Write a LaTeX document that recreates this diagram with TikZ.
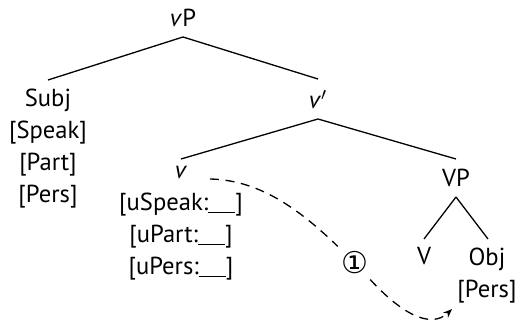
\documentclass[tikz,border=0pt]{standalone}
\usepackage{fontspec}
\setmainfont{PT Sans}
\newfontfamily\symfont{DejaVu Sans}
\usetikzlibrary{arrows.meta}
\newcommand{\featblank}{\rule[-1.2pt]{1.1em}{0.5pt}}
\begin{document}
\begin{tikzpicture}[x=0.5pt,y=-0.5pt,
  every node/.style={inner sep=0pt, font=\fontsize{12.3}{16}\selectfont},
  feat/.style={align=center, anchor=base},
  lbl/.style={anchor=base},
  branch/.style={line width=0.65pt},
  dashline/.style={line width=0.65pt, dash pattern=on 4.5pt off 3.3pt, -{Stealth[length=4.5pt,width=3.5pt]}}]
\useasboundingbox (0,0) rectangle (521,320);
\node[lbl] (vP) at (183,27) {\textit{v}P};
\node[feat] (subj) at (48,203) {Subj\\{[Speak]}\\{[Part]}\\{[Pers]}};
\node[lbl] (vbar) at (318,109) {\textit{v}$'$};
\node[feat] (v) at (181,275) {\textit{v}\\{[uSpeak:\featblank]}\\{[uPart:\featblank]}\\{[uPers:\featblank]}};
\node[lbl] (VP) at (456,187) {VP};
\node[lbl] (V) at (424,265) {V};
\node[feat] (obj) at (487,298) {Obj\\{[Pers]}};
\node[font=\symfont\fontsize{15}{17}\selectfont, inner sep=2.5pt] (one) at (355,263) {①};
\draw[branch] ([yshift=-5pt]vP.base) -- ([yshift=61.5pt]subj.base);
\draw[branch] ([yshift=-5pt]vP.base) -- ([yshift=15pt]vbar.base);
\draw[branch] ([yshift=-5pt]vbar.base) -- ([yshift=58pt]v.base);
\draw[branch] ([yshift=-5pt]vbar.base) -- ([yshift=14pt]VP.base);
\draw[branch] ([yshift=-5pt]VP.base) -- ([yshift=13pt]V.base);
\draw[branch] ([yshift=-5pt]VP.base) -- ([xshift=0.5pt,yshift=29.5pt]obj.base);
\draw[dashline] ([xshift=14.5pt,yshift=48pt]v.base) .. controls (260,180) and (300,210) .. (one) .. controls (400,312) and (430,330) .. ([xshift=-2.5pt,yshift=-2.5pt]obj.south west);
\end{tikzpicture}
\end{document}
